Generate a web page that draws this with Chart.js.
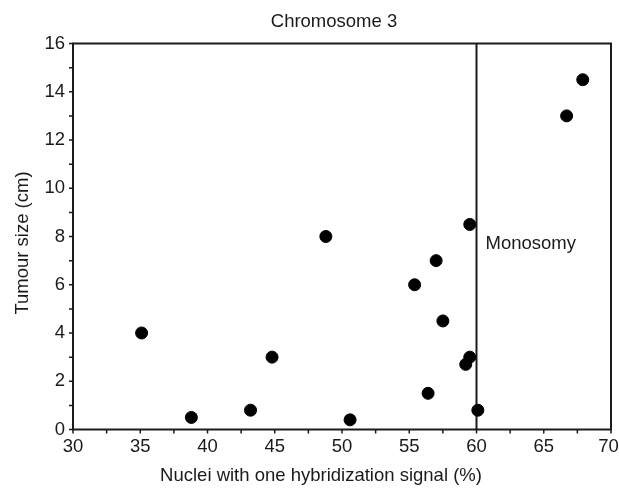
<!DOCTYPE html>
<html>
<head>
<meta charset="utf-8">
<script src="https://cdn.jsdelivr.net/npm/chart.js@4"></script>
<style>
    html, body { margin: 0; padding: 0; background: #fff; }
    #wrap { width: 619px; height: 488px; }
</style>
</head>
<body>
<div id="wrap"><canvas id="chart"></canvas></div>
<script>
// Datos
const nucleiPct = [35.1, 38.8, 43.2, 44.8, 48.8, 50.6, 55.4, 56.4, 57.0, 57.5, 59.2, 59.5, 59.5, 60.1, 66.7, 67.9];
const tumourSize = [4.0, 0.5, 0.8, 3.0, 8.0, 0.4, 6.0, 1.5, 7.0, 4.5, 2.7, 3.0, 8.5, 0.8, 13.0, 14.5];
const xTicks = [30, 35, 40, 45, 50, 55, 60, 65, 70];
const yTicks = [0, 2, 4, 6, 8, 10, 12, 14, 16];
const monosomyCut = 60;
const monosomyLabel = 'Monosomy';
const chartTitle = 'Chromosome 3';
const xTitle = 'Nuclei with one hybridization signal (%)';
const yTitle = 'Tumour size (cm)';

const FONT = "'Liberation Sans', Arial, sans-serif";
const INK = '#1a1a1a';
const TEXT_FONT = '18.5px ' + FONT;

const points = nucleiPct.map((x, i) => ({ x: x, y: tumourSize[i] }));

// Marcas de los ejes, cuadro, titulos y etiqueta
const framePlugin = {
    id: 'frame',
    afterDraw: function(chart) {
        const ctx = chart.ctx;
        const a = chart.chartArea;
        const xs = chart.scales.x;
        const ys = chart.scales.y;
        ctx.save();
        ctx.strokeStyle = INK;
        ctx.lineWidth = 2;
        ctx.strokeRect(a.left, a.top, a.right - a.left, a.bottom - a.top);

        ctx.lineWidth = 1.5;
        ctx.beginPath();
        for (let v = 30; v <= 70; v += 2.5) {
            const px = xs.getPixelForValue(v);
            ctx.moveTo(px, a.bottom);
            ctx.lineTo(px, a.bottom + 4);
        }
        for (let v = 0; v <= 16; v += 1) {
            const py = ys.getPixelForValue(v);
            ctx.moveTo(a.left, py);
            ctx.lineTo(a.left - 4, py);
        }
        ctx.stroke();

        ctx.fillStyle = INK;
        ctx.font = TEXT_FONT;
        ctx.textBaseline = 'middle';
        ctx.textAlign = 'left';
        ctx.fillText(monosomyLabel, xs.getPixelForValue(monosomyCut) + 9, ys.getPixelForValue(7.7));

        ctx.textAlign = 'center';
        ctx.fillText(chartTitle, 334, 22);
        ctx.fillText(xTitle, 321, 476);

        ctx.translate(23, 243);
        ctx.rotate(-Math.PI / 2);
        ctx.fillText(yTitle, 0, 0);
        ctx.restore();
    }
};

new Chart(document.getElementById('chart'), {
    type: 'scatter',
    data: {
        datasets: [
            {
                data: points,
                backgroundColor: '#000',
                borderColor: '#000',
                pointRadius: 6,
                pointHoverRadius: 6
            },
            {
                data: [{ x: monosomyCut, y: 0 }, { x: monosomyCut, y: 16 }],
                showLine: true,
                borderColor: INK,
                borderWidth: 2,
                pointRadius: 0
            }
        ]
    },
    options: {
        responsive: true,
        maintainAspectRatio: false,
        animation: false,
        layout: { padding: { top: 43.5, left: 0, right: 8, bottom: 0 } },
        plugins: {
            legend: { display: false },
            tooltip: { enabled: false },
            title: { display: false }
        },
        scales: {
            x: {
                type: 'linear',
                min: 30,
                max: 70,
                afterBuildTicks: function(scale) {
                    scale.ticks = xTicks.map(v => ({ value: v }));
                },
                afterFit: function(scale) {
                    scale.height = 58.5;
                    scale.paddingLeft = 0;
                    scale.paddingRight = 0;
                },
                grid: { display: false, drawTicks: false },
                border: { display: false },
                ticks: {
                    color: INK,
                    padding: 6,
                    maxRotation: 0,
                    font: { family: FONT, size: 18.5 },
                    // el ultimo rotulo queda un poco a la izquierda, como en la figura
                    callback: function(value) {
                        return value === 70 ? '70 ' : String(value);
                    }
                }
            },
            y: {
                type: 'linear',
                min: 0,
                max: 16,
                afterBuildTicks: function(scale) {
                    scale.ticks = yTicks.map(v => ({ value: v }));
                },
                afterFit: function(scale) {
                    scale.width = 73;
                    scale.paddingTop = 0;
                    scale.paddingBottom = 0;
                },
                grid: { display: false, drawTicks: false },
                border: { display: false },
                ticks: {
                    color: INK,
                    padding: 8,
                    font: { family: FONT, size: 18.5 }
                }
            }
        }
    },
    plugins: [framePlugin]
});
</script>
</body>
</html>
